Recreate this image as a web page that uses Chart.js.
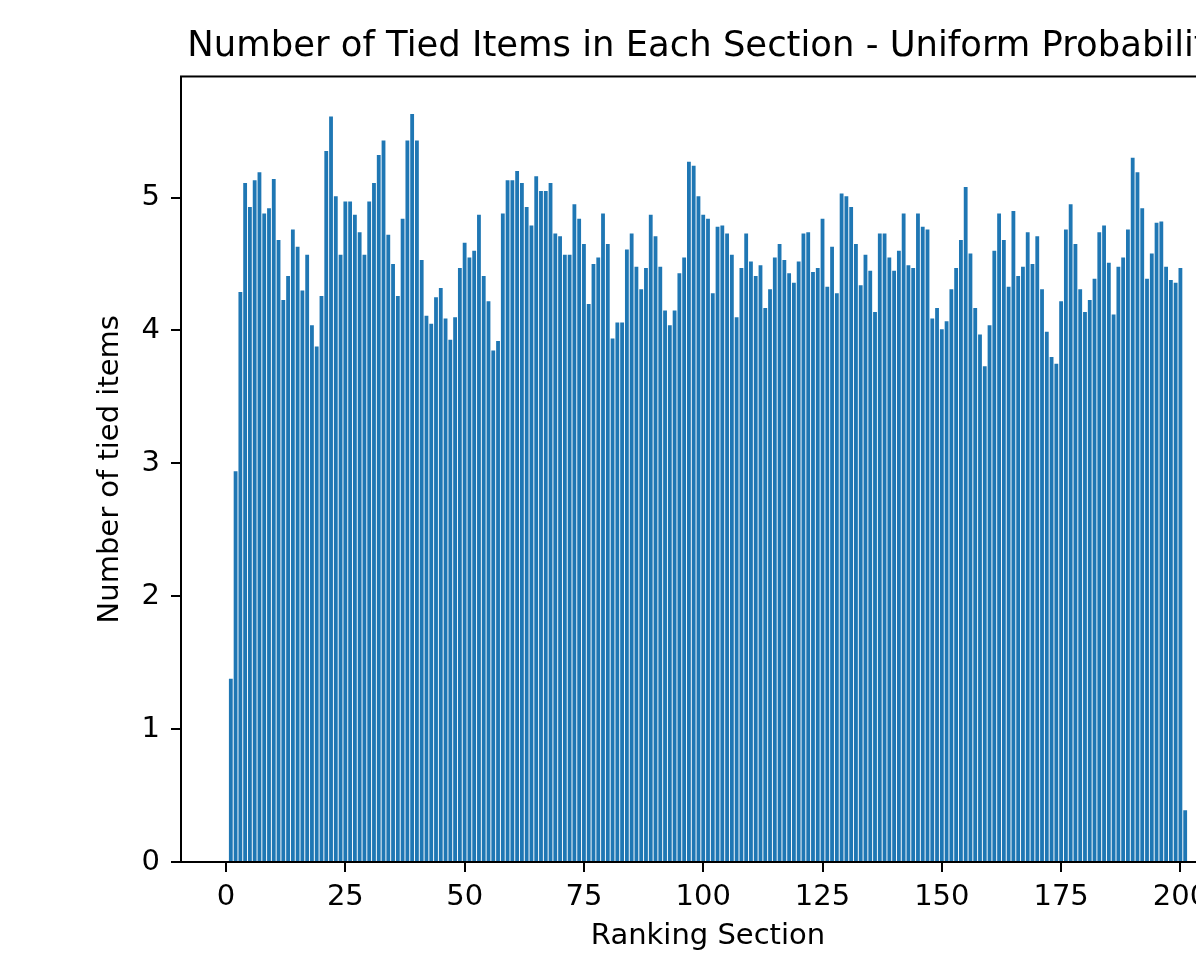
<!DOCTYPE html>
<html>
<head>
<meta charset="utf-8">
<title>Tied items per section</title>
<script src="https://cdn.jsdelivr.net/npm/chart.js@4.4.0/dist/chart.umd.min.js"></script>
<style>
  body { margin: 0; background: #fff; }
  #wrap { width: 1196px; height: 954px; overflow: hidden; }
</style>
</head>
<body>
<div id="wrap"><canvas id="myChart" width="1300" height="954"></canvas></div>
<script>
'use strict';
// ---------- Data ------------- //
let chartTitle = 'Number of Tied Items in Each Section - Uniform Probability';
let xLabel = 'Ranking Section';
let yLabel = 'Number of tied items';
let yTicks = [0, 1, 2, 3, 4, 5];
let xTicks = [0, 25, 50, 75, 100, 125, 150, 175, 200];

// average number of tied items, sections 1..201
let tiedItems = [
  1.38, 2.94, 4.29, 5.11, 4.93, 5.13, 5.19, 4.88, 4.92, 5.14,
  4.68, 4.23, 4.41, 4.76, 4.63, 4.30, 4.57, 4.04, 3.88, 4.26,
  5.35, 5.61, 5.01, 4.57, 4.97, 4.97, 4.87, 4.74, 4.57, 4.97,
  5.11, 5.32, 5.43, 4.72, 4.50, 4.26, 4.84, 5.43, 5.63, 5.43,
  4.53, 4.11, 4.05, 4.25, 4.32, 4.09, 3.93, 4.10, 4.47, 4.66,
  4.55, 4.60, 4.87, 4.41, 4.22, 3.85, 3.92, 4.88, 5.13, 5.13,
  5.20, 5.11, 4.93, 4.79, 5.16, 5.05, 5.05, 5.11, 4.73, 4.71,
  4.57, 4.57, 4.95, 4.84, 4.65, 4.20, 4.50, 4.55, 4.88, 4.65,
  3.94, 4.06, 4.06, 4.61, 4.73, 4.48, 4.31, 4.47, 4.87, 4.71,
  4.48, 4.15, 4.04, 4.15, 4.43, 4.55, 5.27, 5.24, 5.01, 4.87,
  4.84, 4.28, 4.78, 4.79, 4.73, 4.57, 4.10, 4.47, 4.73, 4.52,
  4.41, 4.49, 4.17, 4.31, 4.55, 4.65, 4.53, 4.43, 4.36, 4.52,
  4.73, 4.74, 4.44, 4.47, 4.84, 4.33, 4.63, 4.28, 5.03, 5.01,
  4.93, 4.65, 4.34, 4.57, 4.45, 4.14, 4.73, 4.73, 4.55, 4.45,
  4.60, 4.88, 4.49, 4.47, 4.88, 4.78, 4.76, 4.09, 4.17, 4.01,
  4.07, 4.31, 4.47, 4.68, 5.08, 4.58, 4.17, 3.97, 3.73, 4.04,
  4.60, 4.88, 4.68, 4.33, 4.90, 4.41, 4.48, 4.74, 4.50, 4.71,
  4.31, 3.99, 3.80, 3.75, 4.22, 4.76, 4.95, 4.65, 4.31, 4.14,
  4.23, 4.39, 4.74, 4.79, 4.51, 4.12, 4.48, 4.55, 4.76, 5.30,
  5.19, 4.92, 4.39, 4.58, 4.81, 4.82, 4.48, 4.38, 4.36, 4.47,
  0.39
];
// section numbers 1..N (category axis)
let sections = tiedItems.map((v, i) => i + 1);

// ---------- Axis limits (matplotlib style 5% margins) ------------- //
let barWidth = 0.8;
let xLo = sections[0] - barWidth / 2;
let xHi = sections[sections.length - 1] + barWidth / 2;
let xMin = xLo - 0.05 * (xHi - xLo);
let xMax = xHi + 0.05 * (xHi - xLo);
let yMax = Math.max(...tiedItems) * 1.05;

Chart.defaults.font.family = "'DejaVu Sans', sans-serif";
Chart.defaults.color = '#000';

// box around the plot, like matplotlib spines
let frameBox = {
  id: 'frameBox',
  afterDatasetsDraw(chart) {
    let a = chart.chartArea;
    let ctx = chart.ctx;
    ctx.save();
    ctx.strokeStyle = '#000';
    ctx.lineWidth = 2;
    ctx.strokeRect(a.left, a.top, a.right - a.left, a.bottom - a.top);
    ctx.restore();
  }
};

let ctx = document.getElementById('myChart').getContext('2d');
let myChart = new Chart(ctx, {
  type: 'bar',
  data: {
    labels: sections,
    datasets: [{
      label: yLabel,
      data: tiedItems,
      backgroundColor: '#1f77b4',
      borderWidth: 0,
      categoryPercentage: 1,
      barPercentage: barWidth
    }]
  },
  options: {
    responsive: false,
    animation: false,
    devicePixelRatio: 1,
    layout: { padding: { left: 0, right: 65, top: 0, bottom: 0 } },
    plugins: {
      legend: { display: false },
      tooltip: { enabled: false },
      title: {
        display: true,
        text: chartTitle,
        fullSize: false,
        color: '#000',
        font: { size: 35.4, weight: 'normal' },
        padding: { top: 26, bottom: 8 }
      }
    },
    scales: {
      x: {
        type: 'linear',
        min: xMin,
        max: xMax,
        offset: false,
        border: { display: false },
        grid: { offset: false, drawOnChartArea: false, drawTicks: true, tickLength: 10, tickColor: '#000', lineWidth: 2 },
        ticks: {
          stepSize: 25,
          includeBounds: false,
          padding: 8,
          maxRotation: 0,
          font: { size: 29 },
          callback: (v) => xTicks.includes(v) ? String(v) : ''
        },
        title: { display: true, text: xLabel, font: { size: 29 }, padding: { top: 0, bottom: 0 } },
        afterFit(scale) { scale.height = 92; }
      },
      y: {
        min: 0,
        max: yMax,
        border: { display: false },
        grid: { drawOnChartArea: false, drawTicks: true, tickLength: 10, tickColor: '#000', lineWidth: 2 },
        ticks: {
          stepSize: 1,
          includeBounds: false,
          padding: 11,
          font: { size: 29 },
          callback: (v) => yTicks.includes(v) ? String(v) : ''
        },
        title: { display: true, text: yLabel, font: { size: 29 }, padding: { top: 93, bottom: 0 } },
        afterFit(scale) { scale.width = 181; }
      }
    }
  },
  plugins: [frameBox]
});
</script>
</body>
</html>
